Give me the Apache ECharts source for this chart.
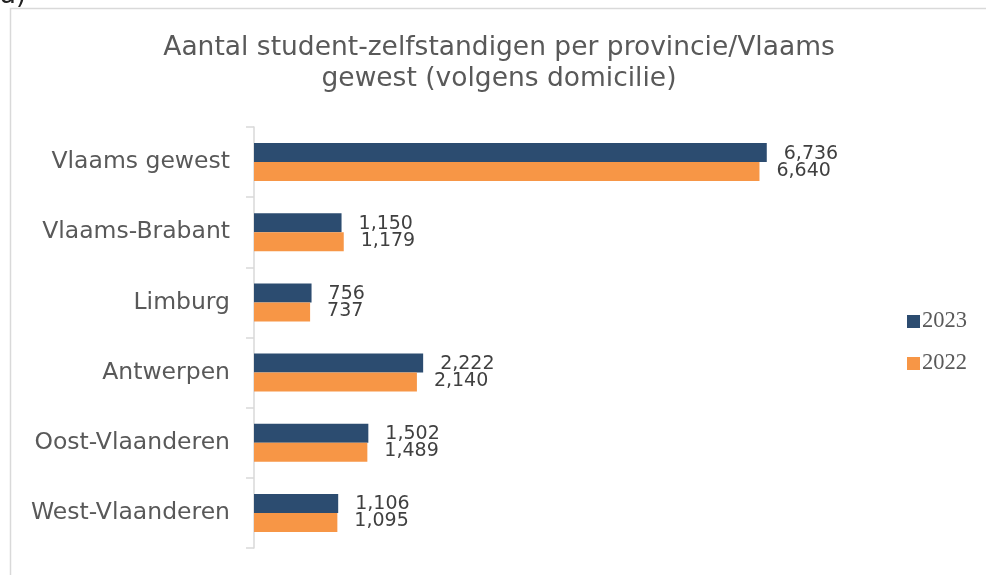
<!DOCTYPE html>
<html>
<head>
<meta charset="utf-8">
<script src="https://cdn.jsdelivr.net/npm/echarts@6/dist/echarts.min.js"></script>
<style>
  html, body { margin: 0; padding: 0; background: #fff; }
  #chart { width: 986px; height: 575px; }
</style>
</head>
<body>
<div id="chart"></div>
<script>
// categories top to bottom
const provinces = ['Vlaams gewest', 'Vlaams-Brabant', 'Limburg', 'Antwerpen', 'Oost-Vlaanderen', 'West-Vlaanderen'];
const values2023 = [6736, 1150, 756, 2222, 1502, 1106];
const values2022 = [6640, 1179, 737, 2140, 1489, 1095];
const seriesNames = ['2023', '2022'];

const fmt = (p) => p.value.toLocaleString('en-US');
const font = '"DejaVu Sans", Verdana, sans-serif';

const chart = echarts.init(document.getElementById('chart'));
chart.setOption({
  animation: false,
  title: {
    text: 'Aantal student-zelfstandigen per provincie/Vlaams\ngewest (volgens domicilie)',
    left: 494,
    textAlign: 'center',
    top: 28,
    textStyle: { fontFamily: font, fontSize: 26.5, fontWeight: 'normal', color: '#595959', lineHeight: 31 }
  },
  graphic: [
    {
      type: 'rect',
      shape: { x: 10.5, y: 8.5, width: 1000, height: 600 },
      style: { fill: 'none', stroke: '#d9d9d9', lineWidth: 1.5 },
      silent: true
    },
    {
      type: 'text',
      left: 0,
      top: -17,
      style: { text: 'a)', font: '26px ' + font, fill: '#222' },
      silent: true
    }
  ],
  legend: {
    orient: 'vertical',
    left: 902,
    top: 305,
    itemWidth: 13,
    itemHeight: 13,
    itemGap: 19,
    icon: 'rect',
    textStyle: { fontFamily: '"Liberation Serif", "Times New Roman", serif', fontSize: 22.5, color: '#595959', padding: [0, 0, 0, -3] },
    data: seriesNames
  },
  grid: { left: 254, top: 127, height: 421, width: 609 },
  xAxis: {
    type: 'value',
    min: 0,
    max: 8000,
    show: false
  },
  yAxis: {
    type: 'category',
    inverse: true,
    data: provinces,
    axisLine: { lineStyle: { color: '#d9d9d9', width: 1.5 } },
    axisTick: { show: true, length: 8, lineStyle: { color: '#d9d9d9', width: 1.5 } },
    axisLabel: { fontFamily: font, fontSize: 23.5, color: '#595959', margin: 24 }
  },
  series: [
    {
      name: seriesNames[0],
      type: 'bar',
      data: values2023,
      barWidth: 19,
      barGap: '0%',
      itemStyle: { color: '#2C4C70' },
      label: { show: true, position: 'right', distance: 17, formatter: fmt, fontFamily: font, fontSize: 19, color: '#404040', offset: [0, 1] }
    },
    {
      name: seriesNames[1],
      type: 'bar',
      data: values2022,
      barWidth: 19,
      barGap: '0%',
      itemStyle: { color: '#F79646' },
      label: { show: true, position: 'right', distance: 17, formatter: fmt, fontFamily: font, fontSize: 19, color: '#404040', offset: [0, -1] }
    }
  ]
});
</script>
</body>
</html>
